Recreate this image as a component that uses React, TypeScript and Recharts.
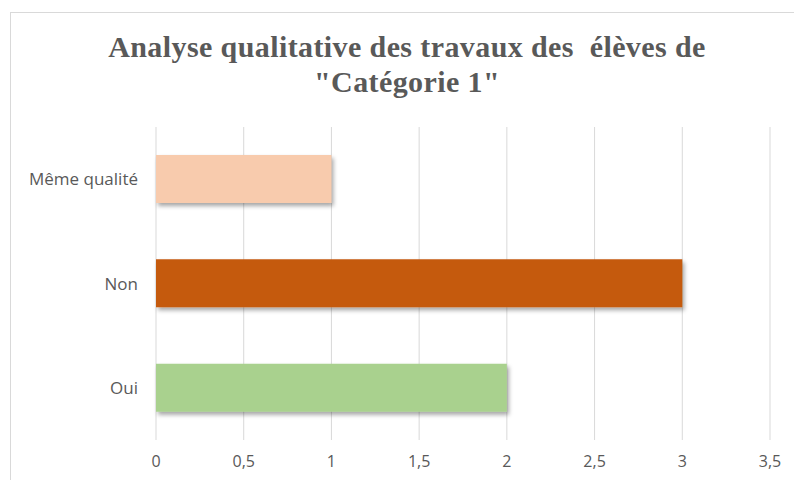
import React from 'react';
import { BarChart, Bar, XAxis, YAxis, CartesianGrid, Cell } from 'recharts';

const categories = ['Même qualité', 'Non', 'Oui'];
const values = [1, 3, 2];
const barColors = ['#F8CBAD', '#C55A11', '#A9D18E'];
const xTicks = [0, 0.5, 1, 1.5, 2, 2.5, 3, 3.5];

const data = categories.map((name, i) => ({ name, value: values[i] }));

const fmt = (v: number) => String(v).replace('.', ',');

export default function App() {
  return (
    <div
      style={{
        position: 'fixed',
        left: 0,
        top: 0,
        width: 794,
        height: 480,
        overflow: 'hidden',
        background: '#fff',
      }}
    >
      <svg width={0} height={0} style={{ position: 'absolute' }}>
        <defs>
          <filter id="barShadow" x="-10%" y="-20%" width="130%" height="160%">
            <feDropShadow dx="2" dy="3" stdDeviation="2" floodColor="#000" floodOpacity="0.35" />
          </filter>
        </defs>
      </svg>
      <div
        style={{
          position: 'absolute',
          left: 10,
          top: 12,
          width: 800,
          height: 500,
          border: '1px solid #d9d9d9',
        }}
      />
      <div
        style={{
          position: 'absolute',
          left: 10,
          top: 29,
          width: 794,
          textAlign: 'center',
          fontFamily: '"Liberation Serif", "Times New Roman", serif',
          fontWeight: 'bold',
          fontSize: 30,
          lineHeight: '35px',
          letterSpacing: 0.4,
          color: '#595959',
          whiteSpace: 'pre',
        }}
      >
        {'Analyse qualitative des travaux des  élèves de\n"Catégorie 1"'}
      </div>
      <div style={{ position: 'absolute', left: 0, top: 0 }}>
        <BarChart
          width={794}
          height={480}
          data={data}
          layout="vertical"
          margin={{ top: 127, right: 24, bottom: 10, left: 0 }}
          barCategoryGap={28}
        >
          <CartesianGrid horizontal={false} stroke="#d9d9d9" />
          <XAxis
            type="number"
            domain={[0, 3.5]}
            ticks={xTicks}
            tickFormatter={fmt}
            axisLine={false}
            tickLine={false}
            tickSize={0}
            tickMargin={16}
            height={30}
            tick={{ fill: '#595959', fontSize: 16, fontFamily: '"Open Sans", sans-serif' }}
          />
          <YAxis
            type="category"
            dataKey="name"
            width={156}
            axisLine={false}
            tickLine={false}
            tickSize={0}
            tickMargin={18}
            tick={{ fill: '#595959', fontSize: 17, fontFamily: '"Open Sans", sans-serif' }}
          />
          <Bar dataKey="value" barSize={48} isAnimationActive={false} filter="url(#barShadow)">
            {data.map((d, i) => (
              <Cell key={d.name} fill={barColors[i]} />
            ))}
          </Bar>
        </BarChart>
      </div>
    </div>
  );
}
